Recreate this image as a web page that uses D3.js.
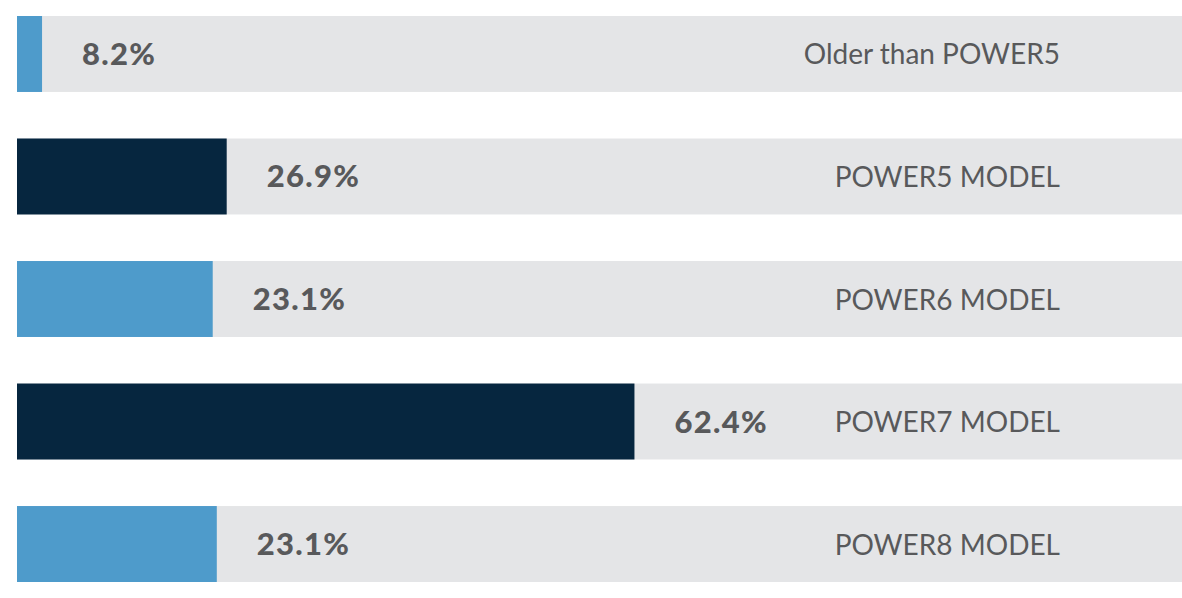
<!DOCTYPE html>
<html>
<head>
<meta charset="utf-8">
<script src="https://cdn.jsdelivr.net/npm/d3@7"></script>
<style>
  html, body { margin: 0; padding: 0; background: #ffffff; }
  svg { display: block; }
</style>
</head>
<body>
<svg id="chart" width="1182" height="598"></svg>
<script>
// Categories (top to bottom)
const categories = ["Older than POWER5", "POWER5 MODEL", "POWER6 MODEL", "POWER7 MODEL", "POWER8 MODEL"];
// Share values shown as labels (%)
const shareValues = [8.2, 26.9, 23.1, 62.4, 23.1];
// Drawn bar fill, as a percent of the full grey track
const barFill = [2.15, 18.0, 16.8, 53.0, 17.15];
// Bar colour group: 0 = light blue, 1 = navy
const colourGroup = [0, 1, 0, 1, 0];

const W = 1182, H = 598;
const trackLeft = 17, trackRight = 1182;
const svg = d3.select("#chart");

const x = d3.scaleLinear().domain([0, 100]).range([trackLeft, trackRight]);
const y = d3.scaleBand().domain(categories).range([16, 582]).paddingInner(0.38).paddingOuter(0);
const colour = d3.scaleOrdinal().domain([0, 1]).range(["#4e9bcb", "#06263f"]);

const rows = categories.map((c, i) => ({ cat: c, val: shareValues[i], fill: barFill[i], grp: colourGroup[i] }));

const g = svg.selectAll("g.row").data(rows).join("g").attr("class", "row");

g.append("rect")
  .attr("x", x(0)).attr("y", d => y(d.cat))
  .attr("width", x(100) - x(0)).attr("height", y.bandwidth())
  .attr("fill", "#e4e5e7");

g.append("rect")
  .attr("x", x(0)).attr("y", d => y(d.cat))
  .attr("width", d => x(d.fill) - x(0)).attr("height", y.bandwidth())
  .attr("fill", d => colour(d.grp));

g.append("text")
  .attr("x", d => x(d.fill) + 40)
  .attr("y", d => y(d.cat) + y.bandwidth() / 2 + 11)
  .attr("font-family", "Lato, 'Open Sans', sans-serif")
  .attr("font-weight", 900)
  .attr("font-size", 31)
  .attr("letter-spacing", "1.3px")
  .attr("fill", "#58595b")
  .text(d => d3.format(".1f")(d.val) + "%");

g.append("text")
  .attr("x", 1060)
  .attr("y", d => y(d.cat) + y.bandwidth() / 2 + 10.5)
  .attr("text-anchor", "end")
  .attr("font-family", "Lato, 'Open Sans', sans-serif")
  .attr("font-weight", 400)
  .attr("font-size", 28)
  .attr("fill", "#58595b")
  .text(d => d.cat);
</script>
</body>
</html>
